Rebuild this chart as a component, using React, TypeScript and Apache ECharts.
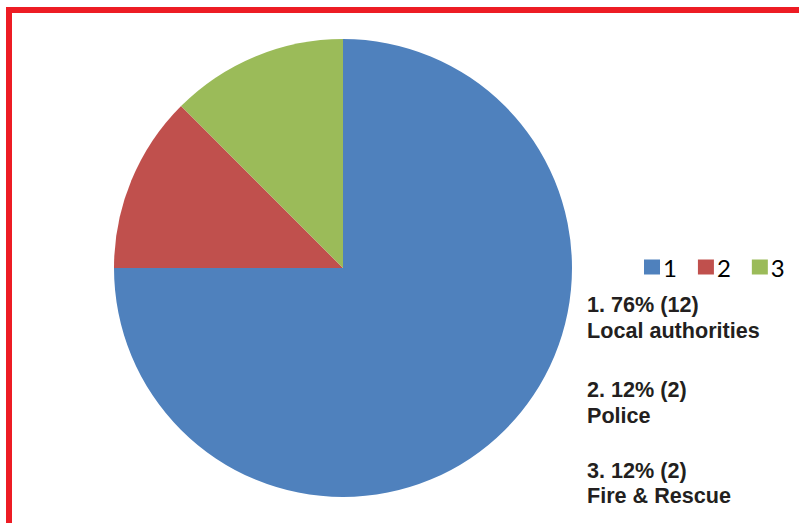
import React, { useEffect, useRef } from "react";
import * as echarts from "echarts";

const categories = ["1", "2", "3"];
const values = [12, 2, 2];
const colors = ["#4F81BD", "#C0504D", "#9BBB59"];
const noteLines = [
  ["1. 76% (12)", "Local authorities"],
  ["2. 12% (2)", "Police"],
  ["3. 12% (2)", "Fire & Rescue"],
];

export default function App() {
  const ref = useRef<HTMLDivElement>(null);
  useEffect(() => {
    if (!ref.current) return;
    const chart = echarts.init(ref.current, null, { renderer: "svg" });
    const blockTops = [304.5, 389.5, 470];
    const texts: any[] = [];
    noteLines.forEach((lines, i) => {
      lines.forEach((line, j) => {
        texts.push({
          type: "text",
          x: 587,
          y: blockTops[i] + j * 25.8,
          style: {
            text: line,
            fill: "#231F20",
            font: "bold 21.6px 'Liberation Sans', Arial, sans-serif",
            textAlign: "left",
            textVerticalAlign: "middle",
          },
        });
      });
    });
    chart.setOption({
      animation: false,
      backgroundColor: "#ffffff",
      legend: {
        data: categories,
        left: 644,
        top: 255,
        padding: 0,
        orient: "horizontal",
        itemWidth: 16,
        itemHeight: 15,
        itemGap: 21,
        icon: "rect",
        selectedMode: false,
        textStyle: {
          fontFamily: "Lato, 'Open Sans', sans-serif",
          fontSize: 24,
          color: "#000000",
          padding: [0, 0, 0, -2],
        },
      },
      graphic: [
        {
          type: "rect",
          shape: { x: 9, y: 10, width: 820, height: 540 },
          style: { fill: "none", stroke: "#ED1C24", lineWidth: 6 },
          silent: true,
        },
        ...texts,
      ],
      series: [
        {
          type: "pie",
          center: [343, 268],
          radius: 229,
          startAngle: 90,
          clockwise: true,
          label: { show: false },
          labelLine: { show: false },
          emphasis: { disabled: true },
          itemStyle: { borderWidth: 0 },
          data: categories.map((c, i) => ({
            name: c,
            value: values[i],
            itemStyle: { color: colors[i] },
          })),
        },
      ],
    });
    return () => chart.dispose();
  }, []);
  return (
    <div
      ref={ref}
      style={{ position: "fixed", left: 0, top: 0, width: 799, height: 523 }}
    />
  );
}
